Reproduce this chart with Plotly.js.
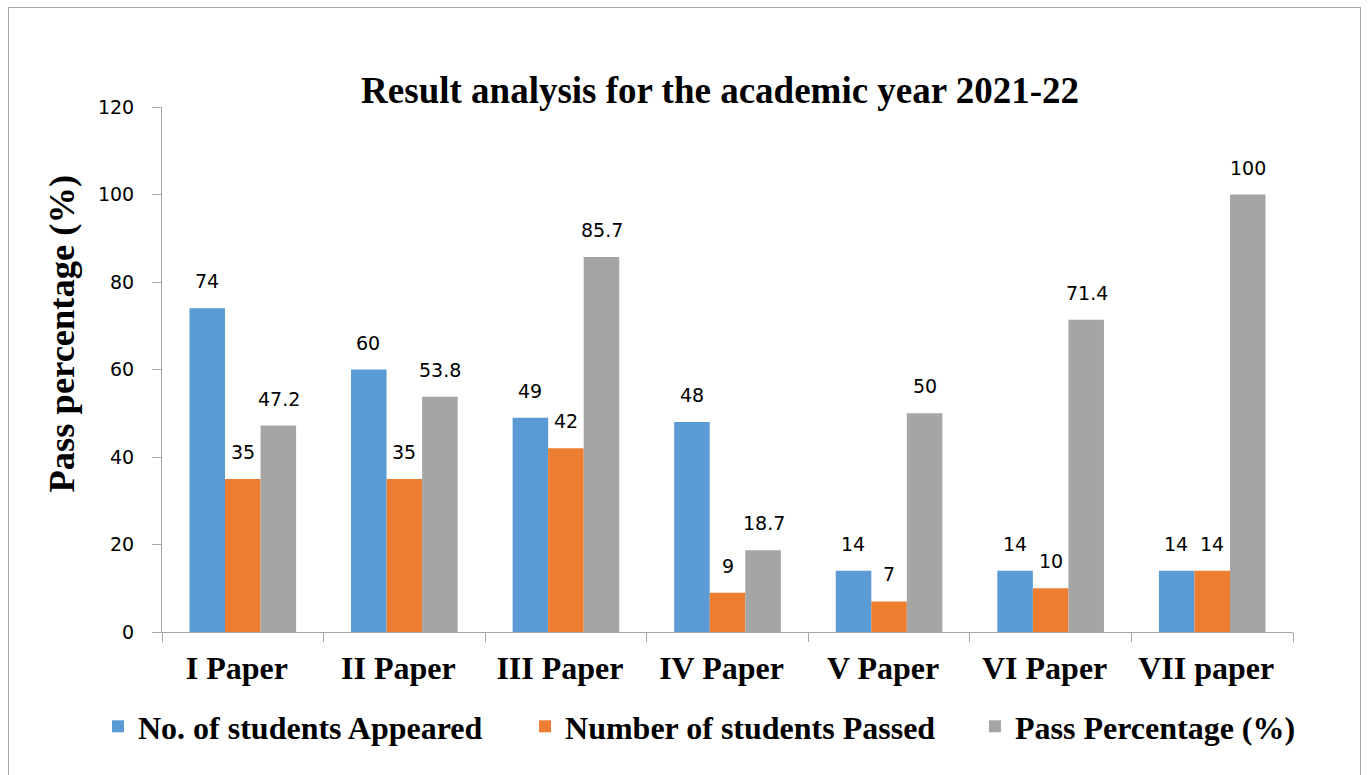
<!DOCTYPE html>
<html>
<head>
<meta charset="utf-8">
<script src="https://cdn.plot.ly/plotly-3.0.1.min.js"></script>
<style>
  html, body { margin: 0; padding: 0; background: #fff; }
  #wrap { position: relative; width: 1369px; height: 775px; overflow: hidden; }
  #chart { width: 1369px; height: 775px; }
  #frame { position: absolute; left: 8px; top: 7px; width: 1353px; height: 800px;
           border: 1px solid #a6a6a6; pointer-events: none; box-sizing: border-box; }
</style>
</head>
<body>
<div id="wrap">
  <div id="chart"></div>
  <div id="frame"></div>
</div>
<script>
const categories = ["I Paper", "II Paper", "III Paper", "IV Paper", "V Paper", "VI Paper", "VII paper"];
const appeared = [74, 60, 49, 48, 14, 14, 14];
const passed = [35, 35, 42, 9, 7, 10, 14];
const passPct = [47.2, 53.8, 85.7, 18.7, 50, 71.4, 100];
const seriesNames = ["No. of students Appeared", "Number of students Passed", "Pass Percentage (%)"];
const colors = ["#5B9BD5", "#ED7D31", "#A5A5A5"];
const yTicks = [0, 20, 40, 60, 80, 100, 120];

const serif = "Liberation Serif, Times New Roman, serif";
const sans = "DejaVu Sans, sans-serif";
const series = [appeared, passed, passPct];
const legendIds = ["legend", "legend2", "legend3"];
const legendX = [-0.0566, 0.321, 0.7188];

const traces = series.map((vals, i) => ({
  type: "bar",
  name: seriesNames[i],
  x: categories,
  y: vals,
  legend: legendIds[i],
  marker: { color: colors[i] },
  hoverinfo: "x+y+name"
}));

const shifts = [-36, 0, 36];
const annotations = [];
series.forEach((vals, i) => {
  vals.forEach((v, j) => {
    annotations.push({
      x: categories[j], y: v, xref: "x", yref: "y",
      text: String(v), showarrow: false,
      xshift: shifts[i], yshift: 14, yanchor: "bottom", xanchor: "center",
      font: { family: sans, size: 19, color: "#000" }
    });
  });
});
annotations.push({
  text: "<b>Pass percentage (%)</b>",
  xref: "paper", yref: "paper", x: -0.0889, y: 0.5695,
  xanchor: "center", yanchor: "middle", textangle: -90, showarrow: false,
  font: { family: serif, size: 36.5, color: "#000" }
});

const layout = {
  width: 1369, height: 775,
  margin: { l: 162, r: 76, t: 107, b: 143 },
  paper_bgcolor: "rgba(0,0,0,0)",
  plot_bgcolor: "rgba(0,0,0,0)",
  barmode: "group",
  bargap: 0.34,
  bargroupgap: 0,
  title: {
    text: "<b>Result analysis for the academic year 2021-22</b>",
    font: { family: serif, size: 37, color: "#000" },
    x: 0.526, xanchor: "center", y: 0.884, yanchor: "middle"
  },
  xaxis: {
    type: "category",
    showline: true, linecolor: "#a6a6a6", linewidth: 1,
    ticks: "outside", tickson: "boundaries", ticklen: 9, tickcolor: "#a6a6a6",
    tickfont: { family: serif, size: 32, color: "#000", weight: "bold" },
    ticklabelstandoff: 8,
    ticklabelshift: -6,
    showgrid: false, zeroline: false
  },
  yaxis: {
    range: [0, 120],
    tickvals: yTicks,
    ticktext: yTicks.map(String),
    showline: true, linecolor: "#a6a6a6", linewidth: 1,
    ticks: "outside", ticklen: 9, tickcolor: "#a6a6a6",
    tickfont: { family: sans, size: 19, color: "#000" },
    ticklabelstandoff: 14,
    showgrid: false, zeroline: false
  },
  annotations: annotations,
  showlegend: true
};
legendIds.forEach((id, i) => {
  layout[id] = {
    orientation: "h",
    x: legendX[i], xanchor: "left",
    y: -0.18, yanchor: "middle",
    font: { family: serif, size: 32, color: "#000", weight: "bold" },
    itemwidth: 30,
    bgcolor: "rgba(0,0,0,0)"
  };
});

Plotly.newPlot("chart", traces, layout, { displayModeBar: false, staticPlot: true });
</script>
</body>
</html>
